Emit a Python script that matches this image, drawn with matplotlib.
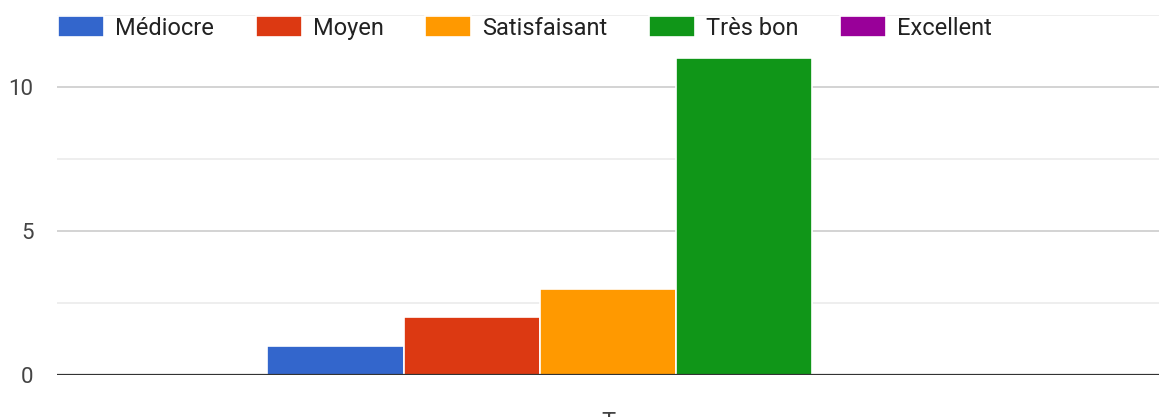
import matplotlib.pyplot as plt
import numpy as np

plt.rcParams['font.family'] = ['Roboto', 'DejaVu Sans']

# Data
categories = ['Médiocre', 'Moyen', 'Satisfaisant', 'Très bon', 'Excellent']
counts = [1, 2, 3, 11, 0]
colors = ['#3366cc', '#dc3912', '#ff9900', '#109618', '#990099']
group_label = ['T']

fig = plt.figure(figsize=(11.59, 4.17), dpi=100)
ax = fig.add_axes([57 / 1159, 1 - 375 / 417, 1 - 57 / 1159, (375 - 15) / 417])

width = 0.1236
x0 = np.arange(len(group_label))
for i, (cat, val, col) in enumerate(zip(categories, counts, colors)):
    ax.bar(x0 + (i - 2) * width, val, width, color=col, edgecolor='white',
           linewidth=1.2, label=cat, zorder=3)

ax.set_xlim(-0.5, 0.5)
ax.set_ylim(0, 12.5)
ax.set_yticks([0, 5, 10])
ax.set_yticks([2.5, 7.5, 12.5], minor=True)
ax.grid(axis='y', which='major', color='#cccccc', linewidth=1.2, zorder=0)
ax.grid(axis='y', which='minor', color='#ebebeb', linewidth=1.2, zorder=0)
ax.axhline(0, color='#333333', linewidth=1.6, zorder=4)

for s in ax.spines.values():
    s.set_visible(False)
ax.tick_params(axis='y', which='both', length=0, pad=17, labelsize=16, labelcolor='#444444')
ax.set_xticks(x0, group_label)
ax.tick_params(axis='x', length=0, pad=26, labelsize=17, labelcolor='#444444')

leg = ax.legend(loc='center left', bbox_to_anchor=(58 / 1159, 1 - 28 / 417),
                bbox_transform=fig.transFigure, ncol=5, frameon=False,
                fontsize=17, handlelength=1.95, handleheight=1.0,
                handletextpad=0.47, columnspacing=1.76, borderpad=0,
                borderaxespad=0)
for t in leg.get_texts():
    t.set_color('#222222')

fig.savefig('out.png', dpi=100)
